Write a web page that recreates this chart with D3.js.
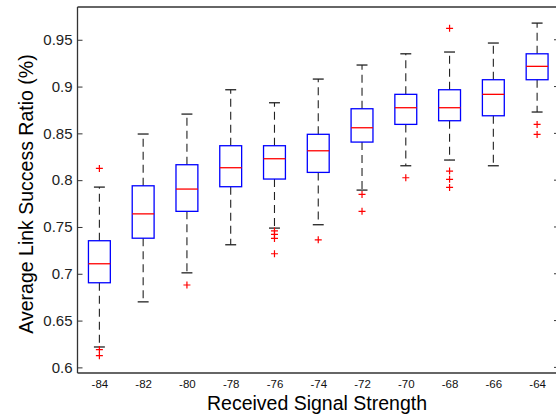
<!DOCTYPE html>
<html><head><meta charset="utf-8">
<script src="https://cdn.jsdelivr.net/npm/d3@7"></script>
<style>
html,body{margin:0;padding:0;background:#fff;}
svg{display:block;font-family:"Liberation Sans",Arial,Helvetica,sans-serif;}
</style></head>
<body>
<svg id="chart" width="556" height="417"></svg>
<script>
const categories = ["-84","-82","-80","-78","-76","-74","-72","-70","-68","-66","-64"];
const upperWhisker = [0.7926,0.8493,0.8706,0.8966,0.8827,0.908,0.923,0.935,0.9369,0.9465,0.9678];
const q3Values     = [0.7353,0.794,0.8165,0.8368,0.8368,0.849,0.8763,0.8917,0.8966,0.9073,0.935];
const medianValues = [0.7107,0.764,0.7905,0.8133,0.8229,0.8314,0.856,0.8774,0.8774,0.8917,0.9216];
const q1Values     = [0.6904,0.738,0.7667,0.793,0.8012,0.8083,0.8407,0.8596,0.8635,0.8688,0.9073];
const lowerWhisker = [0.6218,0.670,0.701,0.731,0.7488,0.7524,0.7894,0.8154,0.8215,0.8154,0.8728];
const outlierValues = [[0.8126,0.619,0.6125],[],[0.688],[],[0.7458,0.742,0.7378,0.7214],[0.7363],[0.7848,0.7667],[0.8026],[0.9622,0.8097,0.8009,0.7923],[],[0.8596,0.8489]];
const yTicks = [0.6,0.65,0.7,0.75,0.8,0.85,0.9,0.95];
const yTickLabels = ["0.6","0.65","0.7","0.75","0.8","0.85","0.9","0.95"];
const xTitle = "Received Signal Strength";
const yTitle = "Average Link Success Ratio (%)";

(function(){
const svg = d3.select("#chart");
const mLeft = 77.5, mRight = 559, mTop = 7, mBottom = 373;
const x = d3.scaleLinear().domain([0.5, categories.length + 0.5]).range([mLeft, mRight]);
const y = d3.scaleLinear().domain([0.594, 0.985]).range([mBottom, mTop]);
const step = x(2) - x(1);
const boxW = step * 0.5, capW = step * 0.25;

const data = categories.map((c,i)=>({c, i:i+1, hi:upperWhisker[i], q3:q3Values[i], med:medianValues[i], q1:q1Values[i], lo:lowerWhisker[i], out:outlierValues[i]}));

svg.append("line").attr("x1",mLeft).attr("x2",mRight).attr("y1",mTop).attr("y2",mTop).attr("stroke","#333").attr("stroke-width",1.3);
svg.append("line").attr("x1",mRight).attr("x2",mRight).attr("y1",mTop).attr("y2",mBottom).attr("stroke","#333").attr("stroke-width",1.3);
svg.append("g").selectAll("line").data(yTicks).join("line")
  .attr("x1",mRight).attr("x2",mRight-5).attr("y1",d=>y(d)).attr("y2",d=>y(d)).attr("stroke","#333");

const yAxis = d3.axisLeft(y).tickValues(yTicks).tickFormat((d,i)=>yTickLabels[i]).tickSizeInner(-5).tickSizeOuter(0).tickPadding(5);
const gy = svg.append("g").attr("transform",`translate(${mLeft},0)`).call(yAxis);
gy.select(".domain").attr("stroke","#333").attr("stroke-width",1.3).attr("d",`M0,${mTop}V${mBottom}`);
gy.selectAll(".tick line").attr("stroke","#333");
gy.selectAll(".tick text").attr("font-size",15).attr("fill","#222").attr("font-family","Liberation Sans, Arial, sans-serif");

const xAxis = d3.axisBottom(x).tickValues(data.map(d=>d.i)).tickFormat((d,i)=>categories[i]).tickSize(0).tickPadding(6.5);
const gx = svg.append("g").attr("transform",`translate(0,${mBottom})`).call(xAxis);
gx.select(".domain").attr("stroke","#333").attr("stroke-width",1.3).attr("d",`M${mLeft},0H${mRight}`);
gx.selectAll(".tick text").attr("font-size",11.5).attr("fill","#111").attr("font-family","Liberation Sans, Arial, sans-serif");

const g = svg.append("g");
const bx = g.selectAll("g.box").data(data).join("g").attr("class","box");
bx.append("line").attr("x1",d=>x(d.i)).attr("x2",d=>x(d.i)).attr("y1",d=>y(d.q3)).attr("y2",d=>y(d.hi))
  .attr("stroke","#222").attr("stroke-width",1.1).attr("stroke-dasharray","8,5");
bx.append("line").attr("x1",d=>x(d.i)).attr("x2",d=>x(d.i)).attr("y1",d=>y(d.q1)).attr("y2",d=>y(d.lo))
  .attr("stroke","#222").attr("stroke-width",1.1).attr("stroke-dasharray","8,5");
bx.append("line").attr("x1",d=>x(d.i)-capW/2).attr("x2",d=>x(d.i)+capW/2).attr("y1",d=>y(d.hi)).attr("y2",d=>y(d.hi))
  .attr("stroke","#222").attr("stroke-width",1.3);
bx.append("line").attr("x1",d=>x(d.i)-capW/2).attr("x2",d=>x(d.i)+capW/2).attr("y1",d=>y(d.lo)).attr("y2",d=>y(d.lo))
  .attr("stroke","#222").attr("stroke-width",1.3);
bx.append("rect").attr("x",d=>x(d.i)-boxW/2).attr("width",boxW)
  .attr("y",d=>y(d.q3)).attr("height",d=>y(d.q1)-y(d.q3))
  .attr("fill","none").attr("stroke","#0000ff").attr("stroke-width",1.3);
bx.append("line").attr("x1",d=>x(d.i)-boxW/2).attr("x2",d=>x(d.i)+boxW/2).attr("y1",d=>y(d.med)).attr("y2",d=>y(d.med))
  .attr("stroke","#ff0000").attr("stroke-width",1.3);
bx.each(function(d){
  const s = d3.select(this);
  d.out.forEach(v=>{
    s.append("path").attr("d",`M${x(d.i)-3.5},${y(v)}h7M${x(d.i)},${y(v)-3.5}v7`)
      .attr("stroke","#ff0000").attr("stroke-width",1.2).attr("fill","none");
  });
});

svg.append("text").attr("x",317).attr("y",410).attr("text-anchor","middle")
  .attr("font-size",19.5).attr("fill","#000").text(xTitle);
svg.append("text").attr("transform","translate(33,194) rotate(-90)").attr("text-anchor","middle")
  .attr("font-size",19.5).attr("fill","#000").text(yTitle);
})();
</script>
</body></html>
